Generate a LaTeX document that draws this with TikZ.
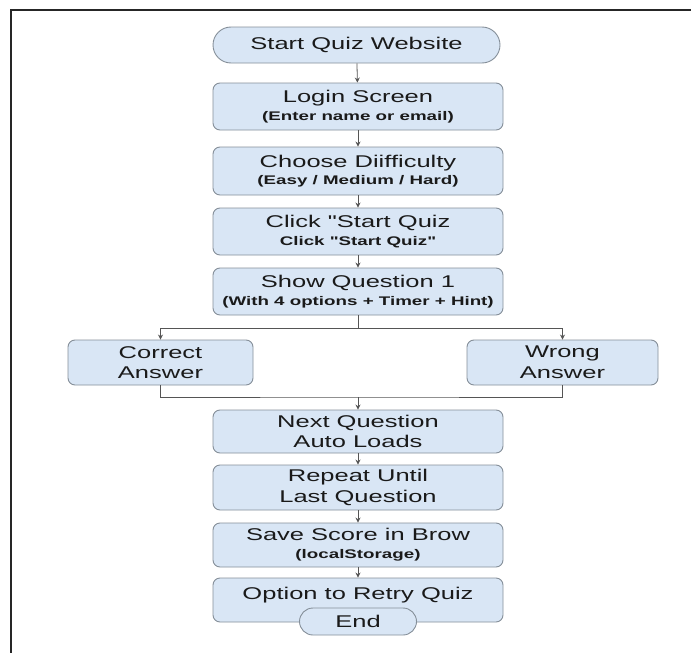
\documentclass[tikz,border=0pt]{standalone}
\usepackage{fontspec}
\setmainfont{Liberation Sans}
\newfontfamily\boxfont[FakeStretch=1.5]{Liberation Sans}
\usetikzlibrary{arrows.meta,shapes.misc}
\definecolor{boxfill}{HTML}{D9E6F5}
\definecolor{boxline}{HTML}{858F99}
\definecolor{wire}{HTML}{555555}
\definecolor{ink}{HTML}{1A1A1A}
\def\stepnote#1{\\[-3pt]{\fontsize{12.5}{14}\selectfont\bfseries #1}}
\tikzset{
  stepbox/.style={draw=boxline, fill=boxfill, line width=0.9pt, rounded corners=7pt,
    minimum width=290pt, minimum height=47pt, inner sep=0pt, align=center, text=ink,
    font=\boxfont\fontsize{17}{20.7}\selectfont},
  endcap/.style={stepbox, sharp corners, rounded rectangle, minimum height=36pt},
  wireline/.style={draw=wire, line width=0.8pt},
  flow/.style={wireline, -{Stealth[length=5pt, width=5pt]}}
}

\begin{document}
\begin{tikzpicture}[x=1pt, y=-1pt]
	%%%%% START %%%%%
	\useasboundingbox (0,0) rectangle (691,653);
	\draw[line width=2pt, black!85] (11,653) -- (11,10) -- (691,10);
	
	\node[endcap, minimum width=287pt] (start) at (356.5,45) {Start Quiz Website};
	\node[stepbox] (login) at (358,106.5) {Login Screen\stepnote{(Enter name or email)}};
	\node[stepbox, minimum height=48pt] (choose) at (358,171) {Choose Diifficulty\stepnote{(Easy / Medium / Hard)}};
	\node[stepbox] (click) at (358,231.5) {Click "Start Quiz\stepnote{Click "Start Quiz"}};
	\node[stepbox] (show) at (358,291.5) {Show Question 1\stepnote{(With 4 options + Timer + Hint)}};
	
	\node[stepbox, minimum width=185pt, minimum height=45pt] (correct) at (160.5,362.5) {Correct\\Answer};
	\node[stepbox, minimum width=191pt, minimum height=45pt] (wrong) at (562.5,362.5) {Wrong\\Answer};
	
	\node[stepbox, minimum height=43pt] (next) at (358,431.5) {Next Question\\Auto Loads};
	\node[stepbox, minimum height=45pt] (repeat) at (358,487.5) {Repeat Until\\Last Question};
	\node[stepbox, minimum height=44pt] (save) at (358,545) {Save Score in Brow\stepnote{(localStorage)}};
	\node[stepbox, minimum height=0pt, text height=21pt, text depth=23pt, anchor=base] (retry) at (358,599) {Option to Retry Quiz};
	\node[endcap, minimum width=117pt, minimum height=27pt] (end) at (358,621.5) {End};
	
	\draw[flow] (start) -- (login);
	\draw[flow] (login) -- (choose);
	\draw[flow] (choose) -- (click);
	\draw[flow] (click) -- (show);
	
	% split and join
	\draw[wireline] (show.south) -- ++(0,13) coordinate (split);
	\draw[flow] (split) -| (correct.north);
	\draw[flow] (split) -| (wrong.north);
	\coordinate (join) at (358,397);
	\draw[wireline] (correct.south) |- (join) -| (wrong.south);
	\draw[flow] (join) -- (next);
	
	\draw[flow] (next) -- (repeat);
	\draw[flow] (repeat) -- (save);
	\draw[flow] (save) -- (retry);
	
	%%%%% END %%%%%
\end{tikzpicture}
\end{document}
